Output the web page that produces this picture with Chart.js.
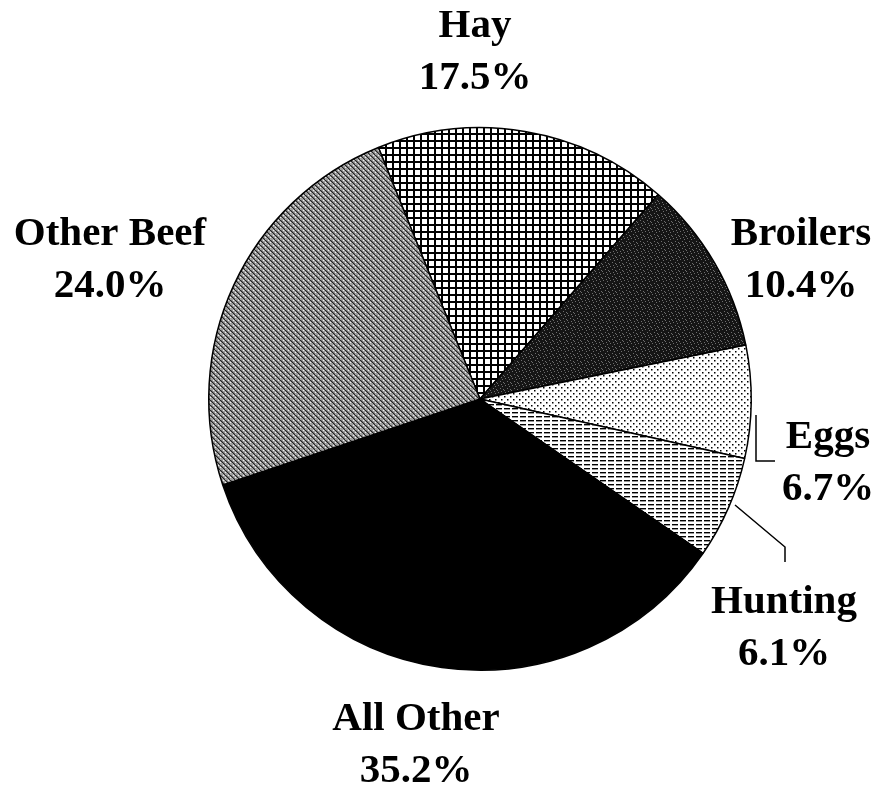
<!DOCTYPE html>
<html>
<head>
<meta charset="utf-8">
<script src="https://cdn.jsdelivr.net/npm/chart.js@4"></script>
<style>
  body { margin: 0; background: #fff; }
  #wrap { width: 879px; height: 793px; }
</style>
</head>
<body>
<div id="wrap"><canvas id="myChart" width="879" height="793"></canvas></div>
<script>
// data (clockwise from the top)
const categories = ["Hay", "Broilers", "Eggs", "Hunting", "All Other", "Other Beef"];
const shares = [17.5, 10.4, 6.7, 6.1, 35.2, 24.0];
const shareLabels = ["17.5%", "10.4%", "6.7%", "6.1%", "35.2%", "24.0%"];

// small tile patterns to mimic the printed fills
function tile(size, draw) {
  var c = document.createElement("canvas");
  c.width = size[0];
  c.height = size[1];
  var g = c.getContext("2d");
  draw(g);
  return g.createPattern(c, "repeat");
}

var hayFill = tile([7, 7], function (g) {
  g.fillStyle = "#fff"; g.fillRect(0, 0, 7, 7);
  g.fillStyle = "#000"; g.fillRect(0, 0, 7, 2); g.fillRect(0, 0, 2, 7);
});
var broilerFill = tile([7, 7], function (g) {
  g.fillStyle = "#151515"; g.fillRect(0, 0, 7, 7);
  g.fillStyle = "#6e6e6e";
  [[1, 0], [5, 1], [3, 3], [0, 5], [6, 4], [4, 6]].forEach(function (p) { g.fillRect(p[0], p[1], 1, 1); });
});
var eggFill = tile([6, 6], function (g) {
  g.fillStyle = "#fff"; g.fillRect(0, 0, 6, 6);
  g.fillStyle = "#000"; g.fillRect(0, 0, 1.5, 1.5); g.fillRect(3, 3, 1.5, 1.5);
});
var huntFill = tile([8, 4], function (g) {
  g.fillStyle = "#fff"; g.fillRect(0, 0, 8, 4);
  g.fillStyle = "#000"; g.fillRect(0, 0, 6, 1.4);
});
var beefFill = tile([5, 5], function (g) {
  g.fillStyle = "#a0a0a0"; g.fillRect(0, 0, 5, 5);
  g.fillStyle = "#222";
  for (var i = 0; i < 5; i++) { g.fillRect(i, i, 1.4, 1); }
  g.fillStyle = "#eee"; g.fillRect(3, 0, 1, 1); g.fillRect(0, 2, 1, 1);
});

var fills = [hayFill, broilerFill, eggFill, huntFill, "#000", beefFill];

// where each two-line label sits: centre x, first baseline y
var labelSpots = [
  [475, 37], [801, 245], [828, 448], [784, 613], [416, 730], [110, 245]
];

var pieLabels = {
  id: "pieLabels",
  afterDraw: function (chart) {
    var c = chart.ctx;
    c.save();
    c.fillStyle = "#000";
    c.font = "bold 41px 'Liberation Serif', 'Times New Roman', serif";
    c.textAlign = "center";
    c.textBaseline = "alphabetic";
    categories.forEach(function (name, i) {
      var s = labelSpots[i];
      c.fillText(name, s[0], s[1]);
      c.fillText(shareLabels[i], s[0], s[1] + 52);
    });
    // leader lines for the two thin slices
    c.strokeStyle = "#000";
    c.lineWidth = 1.5;
    c.beginPath();
    c.moveTo(756, 415); c.lineTo(756, 461); c.lineTo(775, 461);
    c.moveTo(735, 505); c.lineTo(785, 547); c.lineTo(785, 562);
    c.stroke();
    c.restore();
  }
};

const ctx = document.getElementById("myChart");
var pieChart = new Chart(ctx, {
  type: "pie",
  data: {
    labels: categories,
    datasets: [
      {
        data: shares,
        backgroundColor: fills,
        borderColor: "#000",
        borderWidth: 1.5,
      },
    ],
  },
  options: {
    responsive: false,
    animation: false,
    rotation: -22,
    events: [],
    layout: { padding: { left: 208, right: 127, top: 127, bottom: 122 } },
    plugins: {
      legend: { display: false },
      tooltip: { enabled: false },
    },
  },
  plugins: [pieLabels],
});
</script>
</body>
</html>
